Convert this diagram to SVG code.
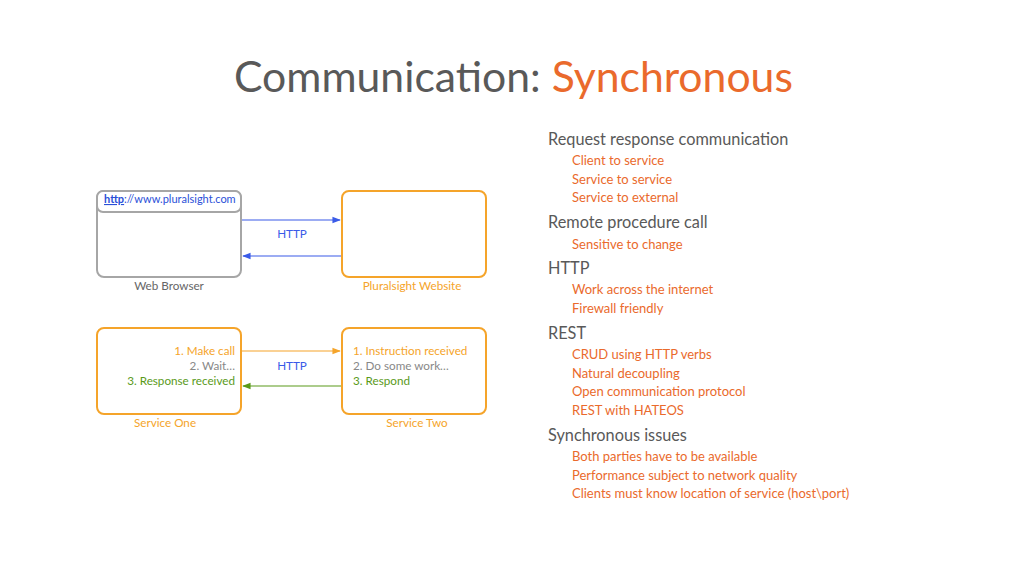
<svg xmlns="http://www.w3.org/2000/svg" width="1024" height="576" viewBox="0 0 1024 576">
<defs>
<style>
text{font-family:Lato,"Open Sans","Liberation Sans",sans-serif}
.title{font-size:42.7px;fill:#595959}
.hd{font-size:16.3px;fill:#595959}
.sub{font-size:13px;fill:#ea6a2c}
.lbl{font-size:11.7px}
.box{fill:#fff;stroke-width:2}
.or{stroke:#f5a42a}
.gr{stroke:#a6a6a6}
</style>
<marker id="ab" viewBox="0 0 10 10" refX="9" refY="5" markerWidth="7" markerHeight="7" orient="auto-start-reverse"><path d="M0,1 L10,5 L0,9 z" fill="#3a5be8"/></marker>
<marker id="ao" viewBox="0 0 10 10" refX="9" refY="5" markerWidth="7" markerHeight="7" orient="auto-start-reverse"><path d="M0,1 L10,5 L0,9 z" fill="#f5a42a"/></marker>
<marker id="ag" viewBox="0 0 10 10" refX="9" refY="5" markerWidth="7" markerHeight="7" orient="auto-start-reverse"><path d="M0,1 L10,5 L0,9 z" fill="#5a9a1a"/></marker>
</defs>
<rect width="1024" height="576" fill="#fff"/>
<text class="title" x="234" y="92">Communication: <tspan fill="#ea6a2c">Synchronous</tspan></text>

<g id="browser">
<rect class="box gr" x="97" y="191" width="144" height="86" rx="7"/>
<rect class="box gr" x="97" y="191" width="144" height="21" rx="6"/>
<text x="104" y="203" font-size="11" fill="#2a4fd8"><tspan font-weight="bold" text-decoration="underline">http</tspan>://www.pluralsight.com</text>
<text class="lbl" x="169" y="290" text-anchor="middle" fill="#666">Web Browser</text>
</g>
<g id="website">
<rect class="box or" x="342" y="191" width="144" height="86" rx="7"/>
<text class="lbl" x="412" y="290" text-anchor="middle" fill="#f5a42a">Pluralsight Website</text>
</g>
<g id="service-one">
<rect class="box or" x="97" y="328" width="144" height="86" rx="7"/>
<text class="lbl" x="235" y="355" text-anchor="end" fill="#f5a42a">1. Make call</text>
<text class="lbl" x="235" y="370" text-anchor="end" fill="#888">2. Wait…</text>
<text class="lbl" x="235" y="385" text-anchor="end" fill="#5a9a1a">3. Response received</text>
<text class="lbl" x="165" y="427" text-anchor="middle" fill="#f5a42a">Service One</text>
</g>
<g id="service-two">
<rect class="box or" x="342" y="328" width="144" height="86" rx="7"/>
<text class="lbl" x="353" y="355" fill="#f5a42a">1. Instruction received</text>
<text class="lbl" x="353" y="370" fill="#888">2. Do some work…</text>
<text class="lbl" x="353" y="385" fill="#5a9a1a">3. Respond</text>
<text class="lbl" x="417" y="427" text-anchor="middle" fill="#f5a42a">Service Two</text>
</g>
<g id="connectors">
<line x1="242" y1="220" x2="340" y2="220" stroke="#3a5be8" stroke-width="1.2" marker-end="url(#ab)"/>
<line x1="341" y1="256" x2="243" y2="256" stroke="#3a5be8" stroke-width="1.2" marker-end="url(#ab)"/>
<text class="lbl" x="292" y="238" text-anchor="middle" fill="#3a5be8">HTTP</text>
<line x1="242" y1="351" x2="340" y2="351" stroke="#f5a42a" stroke-width="1.2" marker-end="url(#ao)"/>
<line x1="341" y1="386" x2="243" y2="386" stroke="#5a9a1a" stroke-width="1.2" marker-end="url(#ag)"/>
<text class="lbl" x="292" y="370" text-anchor="middle" fill="#3a5be8">HTTP</text>
</g>

<g id="bullets">
<text class="hd" x="548" y="145">Request response communication</text>
<text class="sub" x="572" y="165">Client to service</text>
<text class="sub" x="572" y="184">Service to service</text>
<text class="sub" x="572" y="202">Service to external</text>
<text class="hd" x="548" y="228">Remote procedure call</text>
<text class="sub" x="572" y="249">Sensitive to change</text>
<text class="hd" x="548" y="274">HTTP</text>
<text class="sub" x="572" y="294">Work across the internet</text>
<text class="sub" x="572" y="313">Firewall friendly</text>
<text class="hd" x="548" y="339">REST</text>
<text class="sub" x="572" y="359">CRUD using HTTP verbs</text>
<text class="sub" x="572" y="378">Natural decoupling</text>
<text class="sub" x="572" y="396">Open communication protocol</text>
<text class="sub" x="572" y="415">REST with HATEOS</text>
<text class="hd" x="548" y="441">Synchronous issues</text>
<text class="sub" x="572" y="461">Both parties have to be available</text>
<text class="sub" x="572" y="480">Performance subject to network quality</text>
<text class="sub" x="572" y="498">Clients must know location of service (host\port)</text>
</g>
</svg>
